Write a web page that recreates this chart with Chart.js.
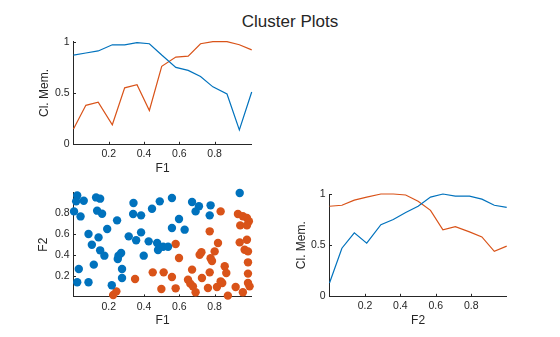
<!DOCTYPE html>
<html>
<head>
<meta charset="utf-8">
<script src="https://cdn.jsdelivr.net/npm/chart.js@4.4.1/dist/chart.umd.min.js"></script>
<style>
    body { margin: 0; background: #fff; }
    #wrap { position: relative; width: 560px; height: 337px; }
    #wrap canvas { position: absolute; left: 0; top: 0; }
    #title {
        position: absolute; left: 0; top: 12px; width: 580px;
        text-align: center; color: #262626;
        font: 17px "Liberation Sans", Arial, sans-serif;
    }
</style>
</head>
<body>
<div id="wrap">
    <div id="title">Cluster Plots</div>
    <canvas id="memF1Chart" width="560" height="337"></canvas>
    <canvas id="scatterChart" width="560" height="337"></canvas>
    <canvas id="memF2Chart" width="560" height="337"></canvas>
</div>
<script>
// membership along F1 (top left)
const f1Grid = [0.00, 0.07, 0.14, 0.22, 0.29, 0.36, 0.43, 0.50, 0.58, 0.65, 0.72, 0.79, 0.87, 0.94, 1.01];
const memF1Blue = [0.87, 0.89, 0.91, 0.97, 0.97, 0.99, 0.98, 0.87, 0.75, 0.72, 0.66, 0.56, 0.49, 0.14, 0.51];
const memF1Orange = [0.15, 0.38, 0.41, 0.19, 0.55, 0.58, 0.33, 0.76, 0.85, 0.86, 0.98, 1.00, 1.00, 0.97, 0.92];

// membership along F2 (bottom right)
const f2Grid = [0.00, 0.07, 0.14, 0.21, 0.29, 0.36, 0.43, 0.50, 0.57, 0.64, 0.71, 0.79, 0.86, 0.93, 1.00];
const memF2Blue = [0.13, 0.47, 0.62, 0.52, 0.70, 0.75, 0.82, 0.88, 0.97, 1.00, 0.98, 0.98, 0.95, 0.89, 0.87];
const memF2Orange = [0.88, 0.89, 0.94, 0.97, 1.00, 1.00, 0.99, 0.93, 0.84, 0.65, 0.68, 0.63, 0.58, 0.44, 0.49];

// scatter, cluster 1 (blue)
const f1Blue = [0.021, 0.015, 0.058, 0.128, 0.151, 0.003, 0.040, 0.134, 0.162, 0.247, 0.191, 0.085, 0.142, 0.104, 0.151,
    0.175, 0.255, 0.270, 0.251, 0.030, 0.115, 0.275, 0.275, 0.021, 0.085, 0.217, 0.340, 0.338, 0.383, 0.445,
    0.489, 0.558, 0.313, 0.355, 0.383, 0.398, 0.426, 0.474, 0.479, 0.508, 0.536, 0.558, 0.598, 0.630, 0.672,
    0.711, 0.692, 0.777, 0.772, 0.942];
const f2Blue = [0.972, 0.915, 0.921, 0.953, 0.941, 0.819, 0.771, 0.826, 0.797, 0.733, 0.650, 0.602, 0.570, 0.500, 0.446,
    0.395, 0.395, 0.420, 0.363, 0.267, 0.309, 0.267, 0.181, 0.140, 0.140, 0.111, 0.899, 0.794, 0.781, 0.845,
    0.915, 0.947, 0.580, 0.542, 0.618, 0.395, 0.532, 0.516, 0.449, 0.481, 0.481, 0.660, 0.746, 0.644, 0.909,
    0.868, 0.819, 0.877, 0.781, 0.995];

// scatter, cluster 2 (orange)
const f1Orange = [0.225, 0.243, 0.349, 0.449, 0.498, 0.511, 0.558, 0.579, 0.579, 0.598, 0.649, 0.662, 0.677, 0.692, 0.672,
    0.728, 0.715, 0.725, 0.762, 0.772, 0.777, 0.785, 0.772, 0.800, 0.819, 0.834, 0.813, 0.834, 0.843, 0.857,
    0.866, 0.875, 0.919, 0.932, 0.960, 0.983, 0.994, 0.945, 0.983, 0.942, 0.983, 0.970, 0.989, 0.989, 0.989,
    0.989, 0.998, 0.960];
const f2Orange = [0.018, 0.053, 0.171, 0.235, 0.076, 0.235, 0.191, 0.082, 0.507, 0.373, 0.165, 0.127, 0.101, 0.044, 0.261,
    0.181, 0.404, 0.427, 0.085, 0.235, 0.370, 0.344, 0.628, 0.436, 0.516, 0.819, 0.095, 0.149, 0.133, 0.293,
    0.229, 0.012, 0.095, 0.794, 0.772, 0.756, 0.724, 0.685, 0.685, 0.522, 0.548, 0.452, 0.436, 0.331, 0.223,
    0.133, 0.101, 0.044];

const memTicks = [0, 0.5, 1];
const featTicks = [0.2, 0.4, 0.6, 0.8];

const axisColor = '#262626';
const blue = '#0072BD';
const orange = '#D95319';
const fontFamily = '"Liberation Sans", Arial, sans-serif';

// small ticks pointing into the plot, like the original
const inwardTicks = {
    id: 'inwardTicks',
    beforeDatasetsDraw(chart) {
        const { ctx, chartArea: a, scales: { x, y } } = chart;
        ctx.save();
        ctx.strokeStyle = axisColor;
        ctx.lineWidth = 1;
        ctx.beginPath();
        x.ticks.forEach(t => {
            const px = Math.round(x.getPixelForValue(t.value)) + 0.5;
            ctx.moveTo(px, a.bottom);
            ctx.lineTo(px, a.bottom - 2.5);
        });
        y.ticks.forEach(t => {
            const py = Math.round(y.getPixelForValue(t.value)) + 0.5;
            ctx.moveTo(a.left, py);
            ctx.lineTo(a.left + 2.5, py);
        });
        ctx.stroke();
        ctx.restore();
    }
};

function makeScale(min, max, tickVals, title, fitProp, fitSize) {
    return {
        type: 'linear',
        min: min,
        max: max,
        afterBuildTicks: s => { s.ticks = tickVals.map(v => ({ value: v })); },
        afterFit: s => {
            s[fitProp] = fitSize;
            s.paddingLeft = 0; s.paddingRight = 0; s.paddingTop = 0; s.paddingBottom = 0;
        },
        grid: { display: false, drawTicks: false },
        border: { display: true, color: axisColor, width: 1 },
        ticks: {
            color: axisColor,
            font: { family: fontFamily, size: 10.5 },
            padding: 4,
            autoSkip: false,
            maxRotation: 0,
            callback: v => String(v)
        },
        title: {
            display: true,
            text: title,
            color: axisColor,
            font: { family: fontFamily, size: 12 },
            padding: 0
        }
    };
}

// area = plot box in page pixels, yW/xH = room for the axis labels
function makeOptions(area, yW, xH, xAxis, yAxis) {
    return {
        responsive: false,
        animation: false,
        events: [],
        layout: {
            padding: {
                left: area.l - yW,
                top: area.t,
                right: 560 - area.r,
                bottom: 337 - area.b - xH
            }
        },
        plugins: { legend: { display: false }, tooltip: { enabled: false } },
        scales: {
            x: makeScale(xAxis.min, xAxis.max, featTicks, xAxis.title, 'height', xH),
            y: makeScale(yAxis.min, yAxis.max, yAxis.ticks, yAxis.title, 'width', yW)
        }
    };
}

function lineSet(xs, ys, color) {
    return {
        data: xs.map((x, i) => ({ x: x, y: ys[i] })),
        borderColor: color,
        borderWidth: 1.2,
        pointRadius: 0,
        tension: 0,
        clip: false
    };
}

function dotSet(xs, ys, color) {
    return {
        data: xs.map((x, i) => ({ x: x, y: ys[i] })),
        backgroundColor: color,
        borderWidth: 0,
        pointRadius: 4.2,
        clip: false
    };
}

new Chart(document.getElementById('memF1Chart'), {
    type: 'line',
    data: { datasets: [lineSet(f1Grid, memF1Blue, blue), lineSet(f1Grid, memF1Orange, orange)] },
    options: makeOptions({ l: 73.5, t: 41.7, r: 251.7, b: 144.3 }, 35.6, 31.2,
        { min: 0, max: 1.01, title: 'F1' },
        { min: 0, max: 1, ticks: memTicks, title: 'Cl. Mem.' }),
    plugins: [inwardTicks]
});

new Chart(document.getElementById('scatterChart'), {
    type: 'scatter',
    data: { datasets: [dotSet(f1Blue, f2Blue, blue), dotSet(f1Orange, f2Orange, orange)] },
    options: makeOptions({ l: 73.5, t: 192.5, r: 251.7, b: 296.9 }, 37.2, 31.2,
        { min: 0, max: 1.01, title: 'F1' },
        { min: 0, max: 1, ticks: featTicks, title: 'F2' }),
    plugins: [inwardTicks]
});

new Chart(document.getElementById('memF2Chart'), {
    type: 'line',
    data: { datasets: [lineSet(f2Grid, memF2Blue, blue), lineSet(f2Grid, memF2Orange, orange)] },
    options: makeOptions({ l: 329.5, t: 194, r: 506.7, b: 296.3 }, 35.2, 31.2,
        { min: 0, max: 1, title: 'F2' },
        { min: 0, max: 1, ticks: memTicks, title: 'Cl. Mem.' }),
    plugins: [inwardTicks]
});
</script>
</body>
</html>
